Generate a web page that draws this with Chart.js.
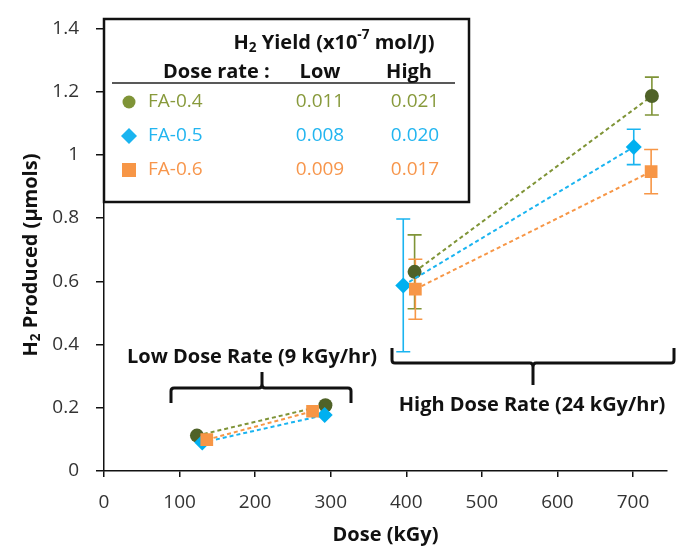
<!DOCTYPE html>
<html>
<head>
<meta charset="utf-8">
<script src="https://cdn.jsdelivr.net/npm/chart.js@4.4.1/dist/chart.umd.min.js"></script>
<style>
  html, body { margin: 0; padding: 0; background: #fff; }
  #wrap { width: 676px; height: 548px; position: relative; }
</style>
</head>
<body>
<div id="wrap"><canvas id="h2Chart"></canvas></div>
<script>
// ========== DATA ==========
const seriesNames = ['FA-0.4', 'FA-0.5', 'FA-0.6'];

// dose (kGy): low dose rate pair, then high dose rate pair
const fa04Dose = [123, 293, 411, 725];
const fa05Dose = [130, 292, 396, 701];
const fa06Dose = [136, 276, 412, 724];

// H2 produced (umols)
const fa04H2 = [0.112, 0.208, 0.630, 1.186];
const fa05H2 = [0.090, 0.177, 0.587, 1.025];
const fa06H2 = [0.099, 0.189, 0.575, 0.947];

// error bar half-heights
const fa04Err = [0, 0, 0.117, 0.060];
const fa05Err = [0, 0, 0.210, 0.056];
const fa06Err = [0, 0, 0.095, 0.070];

// H2 yield table (x10^-7 mol/J)
const yieldLow  = ['0.011', '0.008', '0.009'];
const yieldHigh = ['0.021', '0.020', '0.017'];

const xTicks = [0, 100, 200, 300, 400, 500, 600, 700];
const yTicks = [0, 0.2, 0.4, 0.6, 0.8, 1.0, 1.2, 1.4];

// ========== STYLE ==========
const markerColors = ['#4F6228', '#00B0F0', '#F79646'];
const lightColors  = ['#7F9437', '#1AB4F0', '#F79646'];
const textColors   = ['#889A3C', '#22B5F0', '#F7964C'];
const shapes       = ['circle', 'rectRot', 'rect'];
const radii        = [7, 8, 9];
const FONT = '"Open Sans", Lato, sans-serif';

const doses = [fa04Dose, fa05Dose, fa06Dose];
const h2s   = [fa04H2, fa05H2, fa06H2];
const errs  = [fa04Err, fa05Err, fa06Err];

const datasets = seriesNames.map((name, i) => ({
  label: name,
  data: doses[i].map((d, k) => ({ x: d, y: h2s[i][k] })),
  showLine: true,
  borderColor: markerColors[i],
  borderWidth: 2,
  borderDash: [4, 3],
  segment: {
    // no line between the low and the high dose rate pairs
    borderColor: ctx => ctx.p0DataIndex === 1 ? 'rgba(0,0,0,0)' : lightColors[i]
  },
  pointStyle: shapes[i],
  pointRadius: radii[i],
  pointHoverRadius: radii[i],
  pointBackgroundColor: markerColors[i],
  pointBorderColor: markerColors[i],
  pointBorderWidth: 0,
  order: 3 - i
}));

// error bars behind markers
const errorBars = {
  id: 'errorBars',
  beforeDatasetsDraw(chart) {
    const { ctx, scales: { x, y } } = chart;
    ctx.save();
    ctx.lineWidth = 1.6;
    errs.forEach((e, i) => {
      ctx.strokeStyle = lightColors[i];
      e.forEach((v, k) => {
        if (!v) return;
        const px = x.getPixelForValue(doses[i][k]);
        const top = y.getPixelForValue(h2s[i][k] + v);
        const bot = y.getPixelForValue(h2s[i][k] - v);
        ctx.beginPath();
        ctx.moveTo(px, top); ctx.lineTo(px, bot);
        ctx.moveTo(px - 7, top); ctx.lineTo(px + 7, top);
        ctx.moveTo(px - 7, bot); ctx.lineTo(px + 7, bot);
        ctx.stroke();
      });
    });
    ctx.restore();
  }
};

// text pieces with sub/superscripts
function richText(ctx, parts, x, y, size, weight) {
  let cx = x;
  parts.forEach(p => {
    const s = p.sub || p.sup ? size * 0.68 : size;
    const dy = p.sub ? size * 0.28 : (p.sup ? -size * 0.38 : 0);
    ctx.font = `${weight} ${s}px ${FONT}`;
    ctx.fillText(p.t, cx, y + dy);
    cx += ctx.measureText(p.t).width;
  });
  return cx;
}
function richWidth(ctx, parts, size, weight) {
  let w = 0;
  parts.forEach(p => {
    const s = p.sub || p.sup ? size * 0.68 : size;
    ctx.font = `${weight} ${s}px ${FONT}`;
    w += ctx.measureText(p.t).width;
  });
  return w;
}

const overlay = {
  id: 'overlay',
  afterDraw(chart) {
    const { ctx } = chart;
    ctx.save();
    ctx.textBaseline = 'middle';
    ctx.textAlign = 'left';

    // ----- y axis title -----
    const yTitle = [{ t: 'H' }, { t: '2', sub: true }, { t: ' Produced (\u00b5mols)' }];
    ctx.translate(31, 255);
    ctx.rotate(-Math.PI / 2);
    ctx.fillStyle = '#111';
    const wy = richWidth(ctx, yTitle, 20, 'bold');
    richText(ctx, yTitle, -wy / 2, 0, 20, 'bold');
    ctx.setTransform(1, 0, 0, 1, 0, 0);

    // ----- legend / yield table -----
    ctx.fillStyle = '#fff';
    ctx.fillRect(104, 19, 365, 183);
    ctx.strokeStyle = '#111';
    ctx.lineWidth = 2.5;
    ctx.strokeRect(104, 19, 365, 183);

    ctx.fillStyle = '#111';
    const head = [{ t: 'H' }, { t: '2', sub: true }, { t: ' Yield (x10' }, { t: '-7', sup: true }, { t: ' mol/J)' }];
    const wh = richWidth(ctx, head, 20, 'bold');
    richText(ctx, head, 334 - wh / 2, 43, 20, 'bold');

    ctx.font = `bold 20px ${FONT}`;
    ctx.textAlign = 'left';
    ctx.fillText('Dose rate :', 163, 72);
    ctx.textAlign = 'center';
    ctx.fillText('Low', 320, 72);
    ctx.fillText('High', 409, 72);

    ctx.strokeStyle = '#222';
    ctx.lineWidth = 1.5;
    ctx.beginPath();
    ctx.moveTo(112, 83); ctx.lineTo(455, 83);
    ctx.stroke();

    const rowY = [102, 136, 170];
    seriesNames.forEach((name, i) => {
      const y = rowY[i];
      ctx.fillStyle = lightColors[i];
      ctx.beginPath();
      if (i === 0) ctx.arc(129, y, 6.5, 0, Math.PI * 2);
      if (i === 1) { ctx.moveTo(129, y - 8); ctx.lineTo(137, y); ctx.lineTo(129, y + 8); ctx.lineTo(121, y); ctx.closePath(); }
      if (i === 2) ctx.rect(122, y - 7, 14, 14);
      ctx.fill();
      ctx.fillStyle = textColors[i];
      ctx.font = `19px ${FONT}`;
      ctx.textAlign = 'left';
      ctx.fillText(name, 148, y);
      ctx.textAlign = 'center';
      ctx.fillText(yieldLow[i], 320, y);
      ctx.fillText(yieldHigh[i], 415, y);
    });

    // ----- dose rate brackets -----
    ctx.strokeStyle = '#111';
    ctx.lineWidth = 3;
    ctx.lineJoin = 'round';
    ctx.beginPath();
    ctx.moveTo(171, 403); ctx.lineTo(171, 391); ctx.quadraticCurveTo(171, 388, 174, 388);
    ctx.lineTo(259, 388); ctx.quadraticCurveTo(262, 388, 262, 384); ctx.lineTo(262, 372);
    ctx.moveTo(262, 384); ctx.quadraticCurveTo(262, 388, 265, 388);
    ctx.lineTo(348, 388); ctx.quadraticCurveTo(351, 388, 351, 391); ctx.lineTo(351, 403);
    ctx.stroke();

    ctx.beginPath();
    ctx.moveTo(392, 348); ctx.lineTo(392, 360); ctx.quadraticCurveTo(392, 363, 395, 363);
    ctx.lineTo(530, 363); ctx.quadraticCurveTo(533, 363, 533, 367); ctx.lineTo(533, 385);
    ctx.moveTo(533, 367); ctx.quadraticCurveTo(533, 363, 536, 363);
    ctx.lineTo(671, 363); ctx.quadraticCurveTo(674, 363, 674, 360); ctx.lineTo(674, 348);
    ctx.stroke();

    ctx.fillStyle = '#111';
    ctx.font = `bold 20px ${FONT}`;
    ctx.textAlign = 'center';
    ctx.fillText('Low Dose Rate (9 kGy/hr)', 252, 357);
    ctx.fillText('High Dose Rate (24 kGy/hr)', 532, 405);
    ctx.restore();
  }
};

new Chart(document.getElementById('h2Chart'), {
  type: 'scatter',
  data: { datasets },
  plugins: [errorBars, overlay],
  options: {
    responsive: true,
    maintainAspectRatio: false,
    animation: false,
    layout: { padding: { top: 19, right: 0, left: 0, bottom: 0 } },
    plugins: {
      legend: { display: false },
      tooltip: { enabled: false }
    },
    scales: {
      x: {
        type: 'linear',
        min: 0,
        max: 745,
        afterFit: s => { s.height = 77; },
        afterBuildTicks: s => { s.ticks = xTicks.map(v => ({ value: v })); },
        grid: { drawOnChartArea: false, drawTicks: true, tickLength: 6, color: '#111', lineWidth: 1.5 },
        border: { color: '#111', width: 1.5 },
        ticks: { color: '#333', font: { family: FONT, size: 19 }, padding: 14, maxRotation: 0, autoSkip: false },
        title: {
          display: true,
          text: 'Dose (kGy)',
          color: '#111',
          font: { family: FONT, size: 20, weight: 'bold' },
          padding: { top: 0, bottom: 1 }
        }
      },
      y: {
        min: 0,
        max: 1.4,
        afterFit: s => { s.width = 104; },
        afterBuildTicks: s => { s.ticks = yTicks.map(v => ({ value: v })); },
        grid: { drawOnChartArea: false, drawTicks: true, tickLength: 8, color: '#111', lineWidth: 1.5 },
        border: { color: '#111', width: 1.5 },
        ticks: {
          color: '#333',
          font: { family: FONT, size: 19 },
          padding: 17,
          callback: v => String(Math.round(v * 10) / 10)
        }
      }
    }
  }
});
</script>
</body>
</html>
